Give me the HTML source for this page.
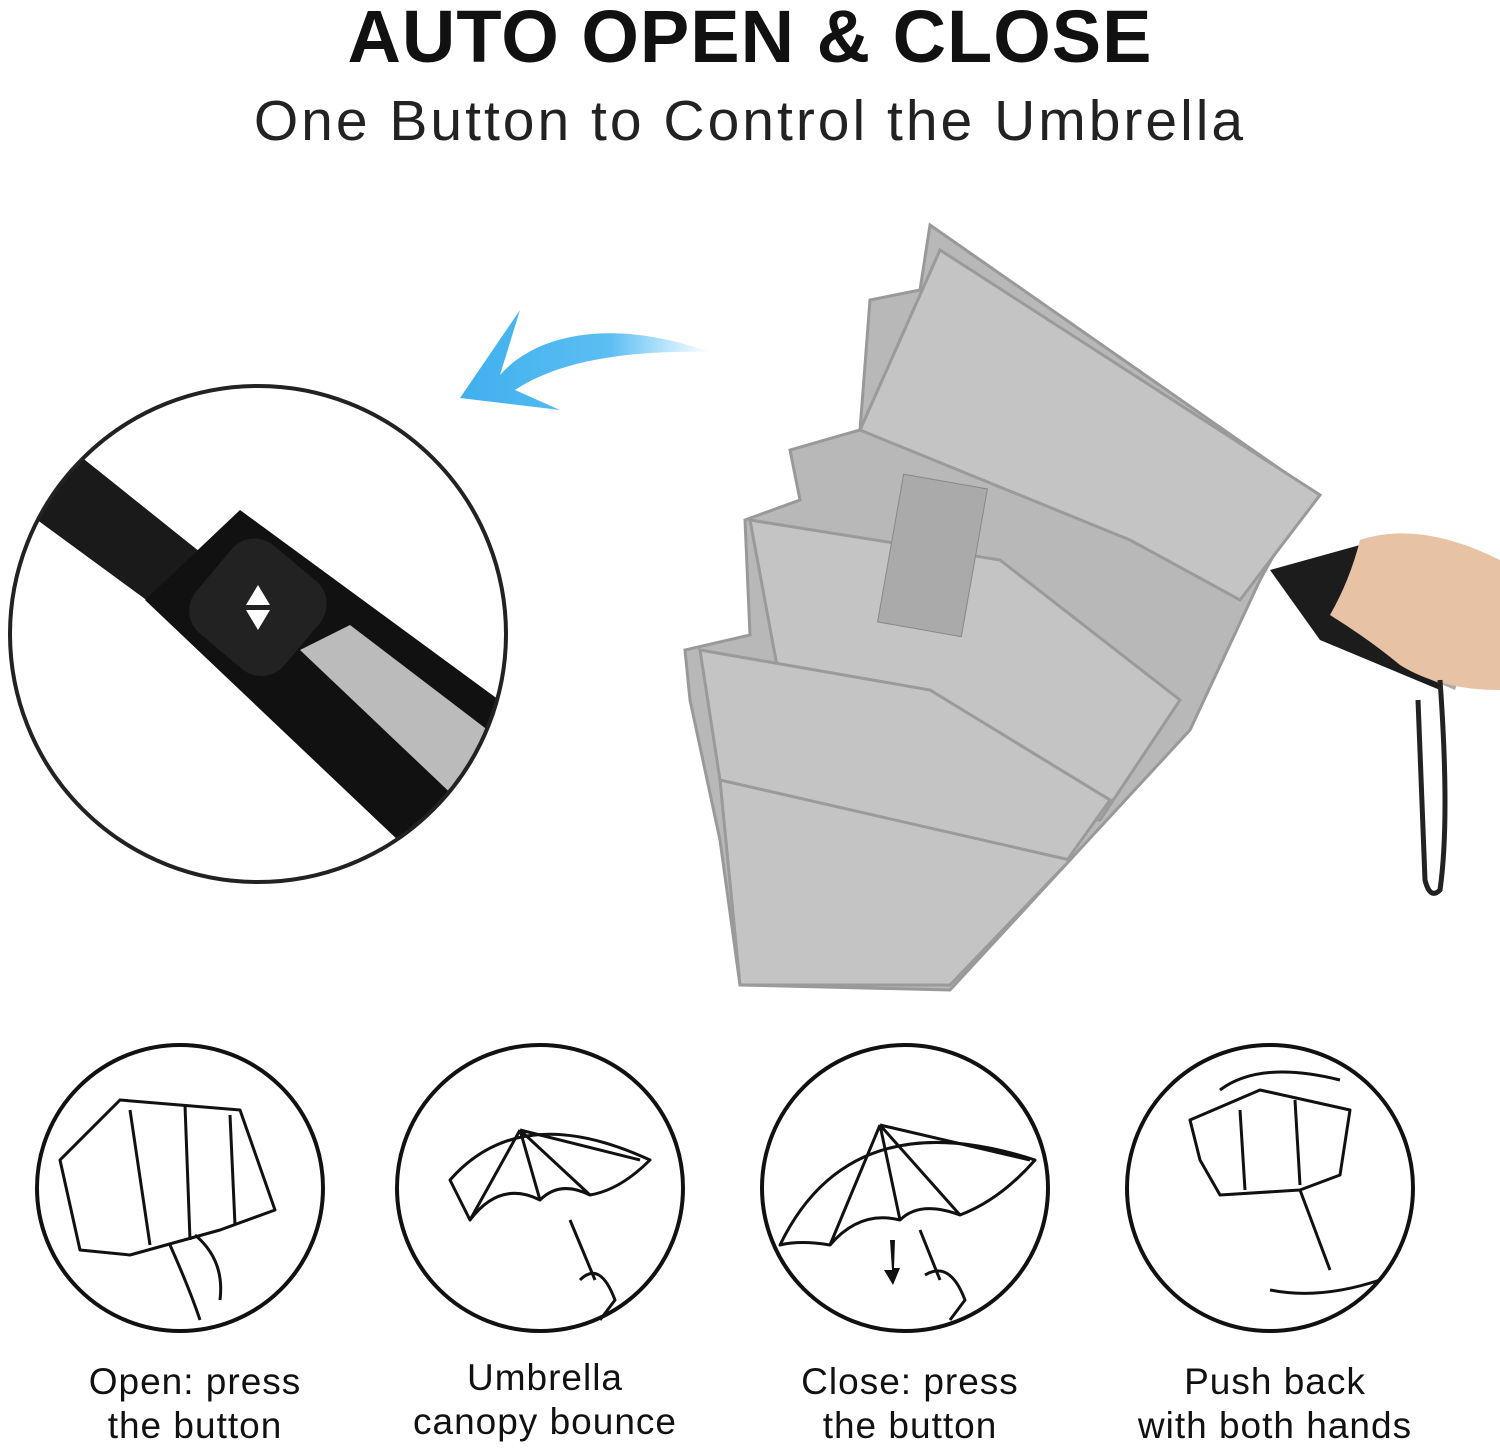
<!DOCTYPE html>
<html><head><meta charset="utf-8"><style>
html,body{margin:0;padding:0;background:#fff;}
body{width:1500px;height:1447px;position:relative;overflow:hidden;font-family:"Liberation Sans",sans-serif;}
.t{position:absolute;left:0;width:1500px;text-align:center;color:#111;}
.lab{position:absolute;text-align:center;font-size:37px;line-height:44px;color:#111;width:340px;letter-spacing:1px}
</style></head><body>
<div class="t" style="top:-6px;font-size:74px;font-weight:bold;letter-spacing:1px;">AUTO OPEN &amp; CLOSE</div>
<div class="t" style="top:88px;font-size:57px;letter-spacing:3px;color:#222">One Button to Control the Umbrella</div>
<svg width="1500" height="1447" style="position:absolute;left:0;top:0" xmlns="http://www.w3.org/2000/svg">
<defs>
<linearGradient id="bl" x1="1" y1="0" x2="0" y2="0"><stop offset="0" stop-color="#5fc4f5" stop-opacity="0"/><stop offset="0.4" stop-color="#5cbef2"/><stop offset="1" stop-color="#3fb0ee"/></linearGradient>
<clipPath id="cc"><circle cx="258" cy="634" r="248"/></clipPath>
</defs>
<path d="M710 352 C620 320 540 330 500 375 L520 310 L460 398 L560 410 L515 390 C560 360 630 350 710 352Z" fill="url(#bl)"/>
<g clip-path="url(#cc)">
<polygon points="10,500 60,440 210,560 160,610" fill="#1a1a1a"/>
<polygon points="145,600 240,510 540,730 440,880" fill="#111"/>
<polygon points="300,650 350,625 540,770 500,840" fill="#bbb"/>
<rect x="200" y="550" width="115" height="115" rx="30" fill="#222" transform="rotate(40 258 608)"/>
<polygon points="258,585 246,605 270,605" fill="#fff"/><polygon points="258,630 246,610 270,610" fill="#fff"/>
</g>
<circle cx="258" cy="634" r="248" fill="none" stroke="#222" stroke-width="4"/>
<g fill="#b8b8b8" stroke="#999" stroke-width="3">
<polygon points="930,225 1310,490 1260,580 1190,730 1070,860 950,990 740,985 720,840 690,700 685,650 750,635 745,520 800,500 790,450 860,430 870,300 920,290"/>
</g>
<g fill="#c4c4c4" stroke="#9a9a9a" stroke-width="3">
<polygon points="940,250 1320,495 1240,600 1130,540 860,430"/>
<polygon points="750,520 1000,560 1180,700 1100,820 800,790"/>
<polygon points="700,650 930,690 1110,800 1060,870 740,910"/>
<polygon points="720,780 1070,860 950,985 740,985"/>
</g>
<rect x="890" y="480" width="85" height="150" fill="#aaa" stroke="#888" transform="rotate(10 930 555)"/>
<polygon points="1270,570 1360,545 1470,615 1440,690 1320,640" fill="#1c1c1c"/>
<polygon points="1430,620 1475,630 1455,690 1420,675" fill="#aaa"/>
<path d="M1360 540 Q1420 520 1500 560 L1500 690 Q1440 690 1400 665 Q1370 640 1330 615 Q1350 580 1360 540Z" fill="#e8c2a4"/>
<path d="M1440 680 Q1450 820 1440 890 Q1430 900 1425 880 L1418 700" fill="none" stroke="#222" stroke-width="5"/>
<g fill="none" stroke="#111" stroke-width="4">
<circle cx="180" cy="1188" r="143"/>
<circle cx="540" cy="1188" r="143"/>
<circle cx="905" cy="1188" r="143"/>
<circle cx="1270" cy="1188" r="143"/>
</g>
<g fill="none" stroke="#111" stroke-width="3" stroke-linejoin="round">
<path d="M60 1160 L120 1100 L240 1110 L275 1210 L220 1230 L130 1255 L80 1250Z"/>
<path d="M130 1110 L150 1245 M185 1105 L190 1240 M230 1115 L235 1225"/>
<path d="M170 1245 Q190 1290 200 1320 M195 1235 Q225 1260 220 1300"/>
<path d="M450 1180 Q520 1100 650 1160 Q620 1190 590 1195 Q560 1180 540 1200 Q500 1180 470 1220 Q460 1200 450 1180Z"/>
<path d="M520 1130 L590 1195 M520 1130 L540 1200 M520 1130 L470 1220 M520 1130 L640 1160 M570 1220 L595 1280"/>
<path d="M580 1280 Q600 1260 615 1300 L600 1320"/>
<path d="M780 1245 Q850 1100 1035 1160 Q1000 1200 960 1215 Q920 1200 900 1220 Q860 1210 830 1245 Q800 1240 780 1245Z"/>
<path d="M880 1125 L960 1215 M880 1125 L900 1220 M880 1125 L830 1245 M880 1125 L1030 1160 M920 1230 L940 1280"/>
<path d="M925 1275 Q950 1260 965 1300 L950 1320"/>
<path d="M1190 1120 L1260 1090 L1350 1110 L1340 1175 L1300 1190 L1220 1195 L1200 1160Z"/>
<path d="M1240 1110 L1245 1190 M1295 1100 L1300 1185 M1300 1190 L1330 1270 M1270 1290 Q1320 1300 1380 1280"/>
<path d="M1220 1090 Q1260 1060 1340 1080"/>
</g>
<path d="M890 1240 L892 1270 L884 1270 L893 1285 L900 1268 L894 1268 L895 1240Z" fill="#111"/>
</svg>
<div class="lab" style="left:25px;top:1360px">Open: press<br>the button</div>
<div class="lab" style="left:375px;top:1356px">Umbrella<br>canopy bounce</div>
<div class="lab" style="left:740px;top:1360px">Close: press<br>the button</div>
<div class="lab" style="left:1105px;top:1360px">Push back<br>with both hands</div>
</body></html>
